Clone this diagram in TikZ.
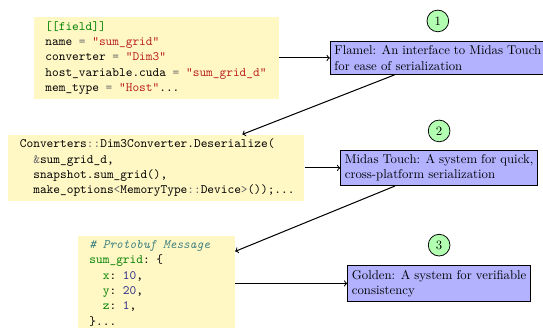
\documentclass[tikz,border=0pt]{standalone}
\usepackage{fontspec}
\usepackage{tikz}

\definecolor{codebg}{RGB}{255,248,197}
\definecolor{kwgreen}{HTML}{008000}
\definecolor{strred}{HTML}{BA2121}
\definecolor{cmtteal}{HTML}{408080}
\definecolor{numblue}{HTML}{2A2A88}
\definecolor{opgray}{HTML}{666666}

\newcommand{\ckw}[1]{\textcolor{kwgreen}{#1}}
\newcommand{\cstr}[1]{\textcolor{strred}{#1}}
\newcommand{\ccmt}[1]{\textcolor{cmtteal}{\itshape #1}}
\newcommand{\cnum}[1]{\textcolor{numblue}{#1}}
\newcommand{\cop}[1]{\textcolor{opgray}{#1}}
\newcommand{\csp}{\phantom{x}}
\newcommand{\cind}{\phantom{xx}}

\begin{document}
\begin{tikzpicture}[node distance=221.5pt]
        \tikzstyle{code} = [rectangle, fill=codebg, font=\ttfamily, align=left, inner xsep=9pt, inner ysep=3.5pt]
        \tikzstyle{stage} = [rectangle, draw, fill=blue!30, align=justify, inner sep=3.33pt, semithick]
        \tikzstyle{marker} = [circle, draw, fill=green!30, minimum size=17pt, inner sep=1pt, semithick]

        \useasboundingbox (-122.6pt,45.4pt) rectangle ++(425.5pt,-257pt);

        \node [code, text width=174pt] (field) {\ckw{[[field]]}\\
            name\csp\cop{=}\csp\cstr{"sum\_grid"}\\
            converter\csp\cop{=}\csp\cstr{"Dim3"}\\
            host\_variable.cuda\csp\cop{=}\csp\cstr{"sum\_grid\_d"}\\
            mem\_type\csp\cop{=}\csp\cstr{"Host"}...};
        \node [code, text width=214pt, below of=field, node distance=86.2pt] (deser) {Converters\cop{::}Dim3Converter.Deserialize(\\
            \cind\cop{\&}sum\_grid\_d,\\
            \cind snapshot.sum\_grid(),\\
            \cind make\_options\cop{<}MemoryType\cop{::}Device\cop{>}());...};
        \node [code, text width=105pt, below of=deser, node distance=90.5pt] (proto) {\ccmt{\#\csp Protobuf\csp Message}\\
            \ckw{sum\_grid}:\csp\{\\
            \cind\ckw{x}:\csp\cnum{10},\\
            \cind\ckw{y}:\csp\cnum{20},\\
            \cind\ckw{z}:\csp\cnum{1},\\
            \}...};

        \node [stage, text width=162pt, right of=field, xshift=-1pt] (flamel) {Flamel: An interface to Midas Touch for ease of serialization};
        \node [stage, text width=147.7pt, right of=deser] (midas) {Midas Touch: A system for quick, cross-platform serialization};
        \node [stage, text width=136.7pt, right of=proto] (golden) {Golden: A system for verifiable consistency};

        \node [marker, above of=flamel, node distance=29pt] (m1) {1};
        \node [marker, above of=midas, node distance=29pt] (m2) {2};
        \node [marker, above of=golden, node distance=30pt] (m3) {3};

        \draw [->, thick] (field) -- (flamel);
        \draw [->, thick] (flamel) -- (deser);
        \draw [->, thick] (deser) -- (midas);
        \draw [->, thick] (midas) -- (proto);
        \draw [->, thick] (proto) -- (golden);
    \end{tikzpicture}
\end{document}
